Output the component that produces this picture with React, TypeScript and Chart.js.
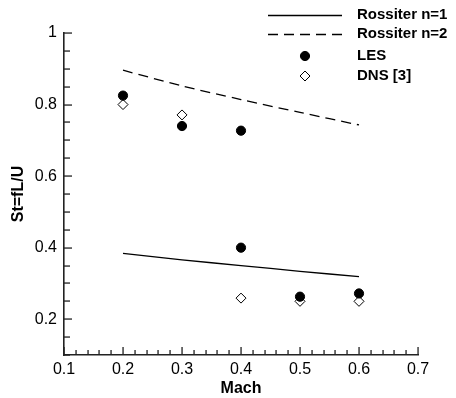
import { useEffect, useRef } from "react";
import { Chart, registerables } from "chart.js";

Chart.register(...registerables);

// ---- Data ----
const rossiterMach = [0.2, 0.3, 0.4, 0.5, 0.6];
const rossiterN1 = [0.384, 0.366, 0.35, 0.334, 0.319];
const rossiterN2 = [0.896, 0.852, 0.814, 0.778, 0.743];
const lesMach = [0.2, 0.3, 0.4, 0.4, 0.5, 0.6];
const lesSt = [0.825, 0.74, 0.727, 0.4, 0.263, 0.272];
const dnsMach = [0.2, 0.3, 0.4, 0.5, 0.6];
const dnsSt = [0.8, 0.771, 0.259, 0.25, 0.25];
const seriesLabels = ["Rossiter n=1", "Rossiter n=2", "LES", "DNS [3]"];
const xTitle = "Mach";
const yTitle = "St=fL/U";

const FONT = "'Liberation Sans', Arial, Helvetica, sans-serif";

const toPoints = (xs: number[], ys: number[]) => xs.map((x, i) => ({ x, y: ys[i] }));

function drawMarker(ctx: CanvasRenderingContext2D, style: string, x: number, y: number, r: number, fill: string) {
  ctx.save();
  ctx.beginPath();
  if (style === "rectRot") {
    ctx.moveTo(x, y - r);
    ctx.lineTo(x + r, y);
    ctx.lineTo(x, y + r);
    ctx.lineTo(x - r, y);
    ctx.closePath();
  } else {
    ctx.arc(x, y, r, 0, Math.PI * 2);
  }
  ctx.fillStyle = fill;
  ctx.fill();
  ctx.lineWidth = 1;
  ctx.strokeStyle = "#000";
  ctx.stroke();
  ctx.restore();
}

function drawInwardTicks(chart: any) {
  const ctx = chart.ctx as CanvasRenderingContext2D;
  const area = chart.chartArea;
  const xs = chart.scales.x;
  const ys = chart.scales.y;
  ctx.save();
  ctx.fillStyle = "#222";
  const xt = xs.ticks || [];
  for (let i = 0; i < xt.length; i++) {
    const t = xt[i];
    const px = Math.round(xs.getPixelForValue(t.value));
    const major = typeof t.label === "string" && t.label.length > 0;
    const len = major ? 8 : 5;
    ctx.fillRect(px - 0.6, area.bottom - len, 1.3, len);
  }
  const yt = ys.ticks || [];
  for (let i = 0; i < yt.length; i++) {
    const t = yt[i];
    const py = Math.round(ys.getPixelForValue(t.value));
    const major = typeof t.label === "string" && t.label.length > 0;
    const len = major ? 8 : 6;
    ctx.fillRect(area.left, py - 0.6, len, 1.3);
  }
  ctx.restore();
}

const customDecor = {
  id: "customDecor",
  afterDraw(chart: any) {
    drawInwardTicks(chart);
    const ctx = chart.ctx as CanvasRenderingContext2D;
    const rowsY = [15, 34, 56, 76];
    const lineX0 = 268;
    const lineX1 = 342;
    const textX = 357;
    ctx.save();
    chart.data.datasets.forEach((ds: any, i: number) => {
      const y = rowsY[i];
      if (ds.showLine) {
        ctx.beginPath();
        ctx.setLineDash(ds.borderDash || []);
        ctx.lineWidth = ds.borderWidth;
        ctx.strokeStyle = ds.borderColor;
        ctx.moveTo(lineX0, y + 0.5);
        ctx.lineTo(lineX1, y + 0.5);
        ctx.stroke();
        ctx.setLineDash([]);
      } else {
        drawMarker(ctx, ds.pointStyle, (lineX0 + lineX1) / 2, y, ds.pointRadius, ds.pointBackgroundColor);
      }
      ctx.fillStyle = "#000";
      ctx.font = `bold 15px ${FONT}`;
      ctx.textAlign = "left";
      ctx.textBaseline = "middle";
      ctx.fillText(ds.label, textX, y);
    });
    ctx.restore();
  },
};

export default function App() {
  const ref = useRef<HTMLCanvasElement | null>(null);

  useEffect(() => {
    if (!ref.current) return;
    const chart = new Chart(ref.current, {
      type: "scatter",
      data: {
        datasets: [
          {
            label: seriesLabels[0],
            data: toPoints(rossiterMach, rossiterN1),
            showLine: true,
            borderColor: "#000",
            borderWidth: 1.3,
            pointRadius: 0,
            pointHoverRadius: 0,
            tension: 0.3,
          },
          {
            label: seriesLabels[1],
            data: toPoints(rossiterMach, rossiterN2),
            showLine: true,
            borderColor: "#000",
            borderWidth: 1.3,
            borderDash: [10, 6],
            pointRadius: 0,
            pointHoverRadius: 0,
            tension: 0.3,
          },
          {
            label: seriesLabels[2],
            data: toPoints(lesMach, lesSt),
            showLine: false,
            pointStyle: "circle",
            pointRadius: 4.6,
            pointBackgroundColor: "#000",
            pointBorderColor: "#000",
            pointBorderWidth: 1,
            borderColor: "#000",
          },
          {
            label: seriesLabels[3],
            data: toPoints(dnsMach, dnsSt),
            showLine: false,
            pointStyle: "rectRot",
            pointRadius: 5,
            pointBackgroundColor: "#fff",
            pointBorderColor: "#000",
            pointBorderWidth: 1,
            borderColor: "#000",
          },
        ],
      } as any,
      options: {
        animation: false,
        responsive: false,
        devicePixelRatio: 1,
        layout: { padding: { left: 0, top: 33, right: 38, bottom: 0 } },
        plugins: {
          legend: { display: false },
          tooltip: { enabled: false },
        },
        scales: {
          x: {
            type: "linear",
            min: 0.1,
            max: 0.7,
            afterFit: (s: any) => {
              s.height = 43;
            },
            grid: { display: false, drawTicks: false },
            border: { display: true, color: "#222", width: 1.6 },
            ticks: {
              stepSize: 0.02,
              autoSkip: false,
              maxRotation: 0,
              padding: 5,
              color: "#000",
              font: { family: FONT, size: 16 },
              callback: (v: any) => {
                const n = Number(v);
                const r = Math.round(n * 10);
                return Math.abs(n * 10 - r) < 1e-6 ? (r / 10).toFixed(1) : "";
              },
            },
            title: {
              display: true,
              text: xTitle,
              color: "#000",
              font: { family: FONT, size: 16, weight: "bold" },
              padding: { top: 0, bottom: 0 },
            },
          },
          y: {
            type: "linear",
            min: 0.1,
            max: 1,
            afterFit: (s: any) => {
              s.width = 64;
            },
            grid: { display: false, drawTicks: false },
            border: { display: true, color: "#222", width: 1.6 },
            ticks: {
              stepSize: 0.05,
              autoSkip: false,
              padding: 7,
              color: "#000",
              font: { family: FONT, size: 16 },
              callback: (v: any) => {
                const n = Number(v);
                const r = Math.round(n * 5);
                return Math.abs(n * 5 - r) < 1e-6 ? String(Math.round(n * 10) / 10) : "";
              },
            },
            title: {
              display: true,
              text: yTitle,
              color: "#000",
              font: { family: FONT, size: 16, weight: "bold" },
              padding: { top: 9, bottom: 0 },
            },
          },
        },
      } as any,
      plugins: [customDecor],
    });
    return () => chart.destroy();
  }, []);

  return (
    <div style={{ position: "absolute", left: 0, top: 0, width: 456, height: 398, background: "#fff" }}>
      <canvas ref={ref} width={456} height={398} style={{ display: "block", width: 456, height: 398 }} />
    </div>
  );
}
